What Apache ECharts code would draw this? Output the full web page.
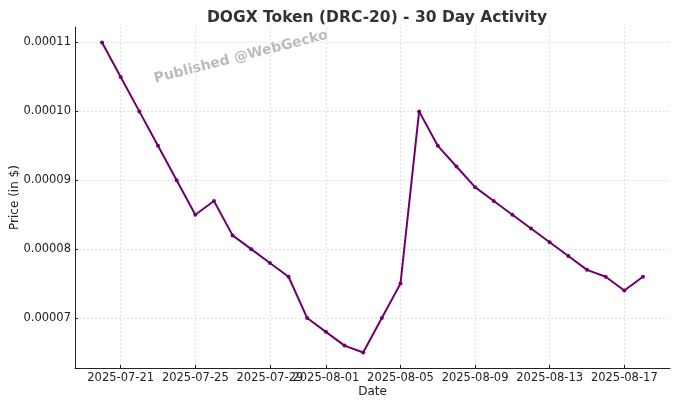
<!DOCTYPE html>
<html>
<head>
<meta charset="UTF-8">
<title>DOGX Token</title>
<script src="https://cdn.jsdelivr.net/npm/echarts@6/dist/echarts.min.js"></script>
<style>html,body{margin:0;padding:0;background:#fff;}</style>
</head>
<body>
<div id="main" style="width: 680px; height: 408px;"></div>
<script type="text/javascript">
// daily dates, 2025-07-20 .. 2025-08-18
var dates = ['2025-07-20','2025-07-21','2025-07-22','2025-07-23','2025-07-24','2025-07-25','2025-07-26','2025-07-27','2025-07-28','2025-07-29','2025-07-30','2025-07-31','2025-08-01','2025-08-02','2025-08-03','2025-08-04','2025-08-05','2025-08-06','2025-08-07','2025-08-08','2025-08-09','2025-08-10','2025-08-11','2025-08-12','2025-08-13','2025-08-14','2025-08-15','2025-08-16','2025-08-17','2025-08-18'];
var prices = [0.000110,0.000105,0.000100,0.000095,0.000090,0.000085,0.000087,0.000082,0.000080,0.000078,0.000076,0.000070,0.000068,0.000066,0.000065,0.000070,0.000075,0.000100,0.000095,0.000092,0.000089,0.000087,0.000085,0.000083,0.000081,0.000079,0.000077,0.000076,0.000074,0.000076];
// tick labels shown on the x axis
var xTickDates = ['2025-07-21','2025-07-25','2025-07-29','2025-08-01','2025-08-05','2025-08-09','2025-08-13','2025-08-17'];
var yTicks = [0.00007, 0.00008, 0.00009, 0.00010, 0.00011];

var font = 'DejaVu Sans';
var xTicks = xTickDates.map(function (d) { return dates.indexOf(d); });
var seriesData = prices.map(function (v, i) { return [i, v]; });

var myChart = echarts.init(document.getElementById('main'));
var option = {
	animation: false,
	textStyle: { fontFamily: font },
	title: {
		text: 'DOGX Token (DRC-20) - 30 Day Activity',
		left: 372,
		textAlign: 'center',
		top: 5,
		textStyle: { fontFamily: font, fontSize: 15.5, fontWeight: 'bold', color: '#333' }
	},
	grid: { left: 75, right: 10, top: 27, bottom: 40, outerBoundsMode: 'none', containLabel: false },
	graphic: [{
		type: 'text',
		x: 241,
		y: 57,
		rotation: 0.25,
		style: {
			text: 'Published @WebGecko',
			font: 'bold 14px "DejaVu Sans"',
			fill: '#bbbbbb',
			align: 'center',
			verticalAlign: 'middle'
		}
	}],
	xAxis: {
		type: 'value',
		min: -1.45,
		max: 30.45,
		name: 'Date',
		nameLocation: 'middle',
		nameGap: 18,
		nameMoveOverlap: false,
		nameTextStyle: { fontFamily: font, fontSize: 12, color: '#222' },
		axisLine: { show: true, onZero: false, lineStyle: { color: '#222', width: 1 } },
		axisTick: { show: true, inside: true, customValues: xTicks, length: 3, lineStyle: { color: '#222' } },
		axisLabel: {
			customValues: xTicks,
			fontFamily: font, fontSize: 11.5, color: '#222', margin: 4,
			formatter: function (v) { return dates[Math.round(v)]; }
		},
		splitLine: { show: true, lineStyle: { color: '#d8d8d8', type: [2, 2], width: 0.8 } }
	},
	yAxis: {
		type: 'value',
		min: 0.00006275,
		max: 0.00011225,
		name: 'Price (in $)',
		nameLocation: 'middle',
		nameGap: 54,
		nameMoveOverlap: false,
		nameTextStyle: { fontFamily: font, fontSize: 12, color: '#222' },
		axisLine: { show: true, onZero: false, lineStyle: { color: '#222', width: 1 } },
		axisTick: { show: true, inside: true, customValues: yTicks, length: 3, lineStyle: { color: '#222' } },
		axisLabel: {
			customValues: yTicks,
			fontFamily: font, fontSize: 11.5, color: '#222', margin: 4,
			formatter: function (v) { return v.toFixed(5); }
		},
		splitLine: { show: true, lineStyle: { color: '#d8d8d8', type: [2, 2], width: 0.8 } }
	},
	series: [{
		type: 'line',
		data: seriesData,
		symbol: 'circle',
		symbolSize: 4,
		showAllSymbol: true,
		lineStyle: { color: '#6e006e', width: 2 },
		itemStyle: { color: '#6e006e' }
	}]
};
myChart.setOption(option);
</script>
</body>
</html>
